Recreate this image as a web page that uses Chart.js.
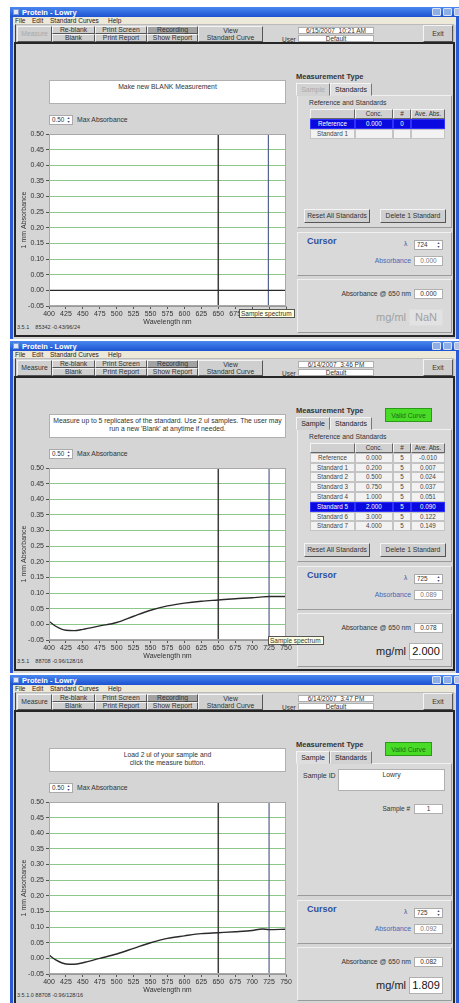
<!DOCTYPE html>
<html>
<head>
<meta charset="utf-8">
<script src="https://cdn.jsdelivr.net/npm/chart.js@4.4.1/dist/chart.umd.min.js"></script>
<style>
    * { box-sizing: border-box; }
    body { margin: 0; width: 459px; height: 1003px; overflow: hidden; position: relative; background: #fff;
           font-family: "Liberation Sans", Arial, sans-serif; color: #222; }
    .win { position: absolute; left: 10px; width: 449px; height: 332px; background: #2a5bd7; overflow: hidden; }
    .win div, .win canvas { position: absolute; }
    .title { background: linear-gradient(#4a88f0, #1c52d0); }
    .ttext { font: bold 7.5px "Liberation Sans"; color: #fff; white-space: nowrap; }
    .tbtn { background: #8eaee6; border: 1px solid #d8e2f6; border-radius: 1px; }
    .menu { background: #ece9d8; font-size: 6.5px; color: #222; }
    .body { background: #d5d5d5; }
    .frame { border: 1px solid #444; border-top-color: #bbb; border-right-color: #bbb; }
    .main { border: 2px solid #262626; background: #d5d5d5; }
    .btn { display: flex; align-items: center; justify-content: center; text-align: center; line-height: 1.1;
           background: #cfcfcf; border: 1px solid; border-color: #f4f4f4 #555 #555 #f4f4f4; font-size: 6.8px; color: #333; }
    .btn.dark { background: #a2a2a2; }
    .btn.off { color: #a8a8a8; }
    .box { background: #fff; border: 1px solid #b0b0b0; font-size: 6.5px; text-align: center; color: #333; white-space: nowrap; }
    .lbl { font-size: 7px; color: #333; white-space: nowrap; }
    .panel { background: #d9d9d9; border: 1px solid; border-color: #f0f0f0 #9a9a9a #9a9a9a #f0f0f0; }
    .tab { background: #d2d2d2; border: 1px solid; border-color: #f4f4f4 #777 transparent #f4f4f4; font-size: 7px; text-align: center; padding-top: 2px; }
    .tab.on { background: #dedede; }
    .tab.dis { color: #aaa; }
    .th { background: #d0d0d0; border: 1px solid; border-color: #f4f4f4 #666 #666 #f4f4f4; font-size: 6.3px; text-align: center; color: #333; line-height: 8px; }
    .td { background: #f2f2f2; border: 1px solid #c4c4c4; font-size: 6.3px; text-align: center; color: #444; line-height: 8px; white-space: nowrap; }
    .td.sel { background: #0a0ae0; color: #fff; border-color: #3030ff; }
    .valid { background: #48dc26; border: 1px solid #2a9a18; color: #1f6a18; font-size: 6.8px; display: flex; align-items: center; justify-content: center; }
    .blue { color: #2d4f9e; }
    .tip { background: #ffffe1; border: 1px solid #555; font-size: 6.5px; color: #333; line-height: 7px; padding-left: 1px; white-space: nowrap; }
    .spin { background: #fff; border: 1px solid #aaa; font-size: 6.3px; color: #333; padding-left: 2px; line-height: 8px; white-space: nowrap; }
    .arr { width: 5px; height: 8px; font-size: 3.5px; line-height: 4px; color: #447; text-align: center; }
</style>
</head>
<body>
<script>
const wavelengthNm = [400, 410, 425, 437, 450, 475, 500, 525, 550, 575, 600, 625, 650, 675, 700, 715, 725, 750];
const blankAbs = [0, 0, 0, 0, 0, 0, 0, 0, 0, 0, 0, 0, 0, 0, 0, 0, 0, 0];
const standardAbs = [0.010, -0.006, -0.019, -0.020, -0.016, -0.005, 0.006, 0.026, 0.045, 0.059, 0.068, 0.074, 0.078, 0.082, 0.085, 0.088, 0.089, 0.089];
const sampleAbs = [0.011, -0.005, -0.018, -0.019, -0.014, 0.000, 0.014, 0.032, 0.050, 0.064, 0.072, 0.079, 0.082, 0.085, 0.089, 0.094, 0.092, 0.093];

// y axis and x axis ticks
const absMin = -0.05, absMax = 0.5, absStep = 0.05;
const nmMin = 400, nmMax = 750, nmStep = 25;
const fixedLineNm = 650;

// Standards table
const stdNames = ['Reference', 'Standard 1', 'Standard 2', 'Standard 3', 'Standard 4', 'Standard 5', 'Standard 6', 'Standard 7'];
const stdConc = ['0.000', '0.200', '0.500', '0.750', '1.000', '2.000', '3.000', '4.000'];
const stdReps = ['5', '5', '5', '5', '5', '5', '5', '5'];
const stdAveAbs = ['-0.010', '0.007', '0.024', '0.037', '0.051', '0.090', '0.122', '0.149'];

const FONT = '"Liberation Sans", Arial, sans-serif';

function el(x, y, w, h, cls, html, extra) {
    return `<div class="${cls || ''}" style="left:${x}px;top:${y}px;width:${w}px;height:${h}px;${extra || ''}">${html || ''}</div>`;
}

function spinner(x, y, w, value) {
    return el(x, y, w, 10, 'spin', value + el(w - 8, 0, 5, 8, 'arr', '&#9650;<br>&#9660;'));
}

function tableHtml(rows, selected, rowH) {
    const cols = [0, 45, 83, 101];
    const widths = [45, 38, 18, 34];
    const heads = ['', 'Conc.', '#', 'Ave. Abs.'];
    let h = '';
    heads.forEach((t, i) => { h += el(300 + cols[i], 102, widths[i], rowH, 'th', t); });
    rows.forEach((r, j) => {
        r.forEach((t, i) => {
            h += el(300 + cols[i], 102 + rowH * (j + 1), widths[i], rowH, j === selected ? 'td sel' : 'td', t);
        });
    });
    return h;
}

function windowHtml(cfg) {
    let h = '';
    // title bar + menu
    h += el(0, 0, 449, 10, 'title');
    h += el(3, 2, 6, 6, '', '', 'background:#dfe7fb;border:1px solid #7d9bd8');
    h += el(12, 1, 120, 9, 'ttext', 'Protein - Lowry');
    h += el(422, 1, 9, 8, 'tbtn') + el(433, 1, 9, 8, 'tbtn') + el(444, 1, 9, 8, 'tbtn', '', 'background:#b7bfe0');
    h += el(3, 10, 443, 8, 'menu');
    h += el(5, 10, 20, 8, 'menu', '<u>F</u>ile', 'background:none');
    h += el(22, 10, 20, 8, 'menu', '<u>E</u>dit', 'background:none');
    h += el(40, 10, 60, 8, 'menu', '<u>S</u>tandard Curves', 'background:none');
    h += el(98, 10, 20, 8, 'menu', '<u>H</u>elp', 'background:none');
    h += el(3, 18, 443, 314, 'body');

    // toolbar
    h += el(5, 17, 439, 19, 'frame');
    h += el(7, 19, 35, 16, 'btn' + (cfg.measureOff ? ' off' : ''), 'Measure');
    h += el(42, 19, 43, 8, 'btn', 'Re-blank') + el(42, 27, 43, 8, 'btn', 'Blank');
    h += el(85, 19, 52, 8, 'btn', 'Print Screen') + el(85, 27, 52, 8, 'btn', 'Print Report');
    h += el(137, 19, 51, 8, 'btn dark', 'Recording') + el(137, 27, 51, 8, 'btn', 'Show Report');
    h += el(188, 19, 65, 16, 'btn', 'View<br>Standard Curve');
    h += el(288, 20, 76, 7, 'box', cfg.date, 'line-height:6px');
    h += el(272, 29, 16, 7, 'lbl', 'User', 'font-size:6.5px');
    h += el(288, 28, 76, 7, 'box', 'Default', 'line-height:6px');
    h += el(413, 18, 30, 17, 'btn', 'Exit');

    // main area
    h += el(4, 35, 441, 295, 'main');
    h += el(39, 73, 237, 24, 'box', cfg.message, 'font-size:6.8px;line-height:8px;padding-top:2px;white-space:normal');
    h += spinner(39, 108, 24, '0.50');
    h += el(67, 109, 70, 9, 'lbl', 'Max Absorbance', 'font-size:6.8px');
    h += el(7, 317, 120, 8, 'lbl', cfg.footnote, 'font-size:5.5px;white-space:pre');

    // right side
    h += el(286, 65, 100, 10, 'lbl', 'Measurement Type', 'font-weight:bold;font-size:7.5px');
    if (cfg.valid) h += el(375, 67, 47, 14, 'valid', 'Valid Curve');
    h += el(287, 88, 155, 133, 'panel');
    const sampleOn = cfg.tab === 'sample';
    h += el(286, 76, 34, 13, 'tab' + (sampleOn ? ' on' : '') + (cfg.sampleOff ? ' dis' : ''), 'Sample');
    h += el(320, 76, 42, 13, 'tab' + (sampleOn ? '' : ' on'), 'Standards');
    if (sampleOn) {
        h += el(293, 97, 40, 10, 'lbl', 'Sample ID', 'font-size:7px');
        h += el(328, 94, 107, 22, 'box', 'Lowry', 'padding-top:1px;font-size:6.8px');
        h += el(340, 130, 60, 10, 'lbl', 'Sample #', 'text-align:right;font-size:6.5px');
        h += el(404, 129, 29, 10, 'box', '1', 'line-height:8px');
    } else {
        h += el(299, 92, 100, 9, 'lbl', 'Reference and Standards', 'font-size:6.8px');
        h += tableHtml(cfg.rows, cfg.selected, cfg.rowH);
        h += el(294, 202, 66, 14, 'btn', 'Reset All Standards');
        h += el(370, 202, 66, 14, 'btn', 'Delete 1 Standard');
    }
    h += el(287, 225, 155, 44, 'panel');
    h += el(297, 229, 50, 12, 'lbl blue', 'Cursor', 'font-weight:bold;font-size:9px');
    h += el(394, 233, 8, 9, 'lbl blue', '&lambda;', 'font-size:6.5px');
    h += spinner(404, 233, 29, cfg.cursor);
    h += el(340, 250, 61, 10, 'lbl', 'Absorbance', 'text-align:right;color:#4a67b5;font-size:6.8px');
    h += el(404, 249, 29, 10, 'box', cfg.cursorAbs, 'line-height:8px;color:#777');
    h += el(287, 272, 155, 54, 'panel');
    h += el(300, 283, 101, 10, 'lbl', 'Absorbance @ 650 nm', 'text-align:right;font-size:6.8px');
    h += el(404, 282, 29, 10, 'box', cfg.abs650, 'line-height:8px');
    h += el(340, 304, 56, 14, 'lbl', 'mg/ml', 'text-align:right;font-size:11px;' + (cfg.mgOff ? 'color:#a0a0a0' : 'color:#222'));
    h += el(399, 302, 34, 17, 'box', cfg.mgml,
        'font-size:11px;line-height:15px;' + (cfg.mgOff ? 'background:#e2e2e2;color:#a0a0a0;border-color:#ddd' : 'color:#111'));
    if (cfg.tip) h += el(cfg.tip[0], cfg.tip[1], 56, 9, 'tip', 'Sample spectrum');
    return h;
}

const plotBg = {
    id: 'plotBg',
    beforeDraw(chart) {
        const a = chart.chartArea, c = chart.ctx;
        c.save();
        c.fillStyle = '#ffffff';
        c.fillRect(a.left, a.top, a.right - a.left, a.bottom - a.top);
        c.restore();
    },
    afterDraw(chart) {
        const a = chart.chartArea, c = chart.ctx;
        c.save();
        c.strokeStyle = '#a8a8a8';
        c.lineWidth = 1;
        c.strokeRect(a.left + 0.5, a.top + 0.5, a.right - a.left - 1, a.bottom - a.top - 1);
        c.restore();
    }
};

function makeChart(canvas, absValues, cursorNm) {
    const tickFont = { family: FONT, size: 7 };
    return new Chart(canvas.getContext('2d'), {
        type: 'line',
        data: {
            datasets: [
                {
                    data: wavelengthNm.map((x, i) => ({ x: x, y: absValues[i] })),
                    borderColor: '#2a2a2a', borderWidth: 1.4, pointRadius: 0,
                    cubicInterpolationMode: 'monotone'
                },
                {
                    data: [{ x: fixedLineNm, y: absMin }, { x: fixedLineNm, y: absMax }],
                    borderColor: '#3c3c3c', borderWidth: 1.5, pointRadius: 0
                },
                {
                    data: [{ x: cursorNm, y: absMin }, { x: cursorNm, y: absMax }],
                    borderColor: '#52628e', borderWidth: 1.2, pointRadius: 0
                }
            ]
        },
        options: {
            responsive: false,
            animation: false,
            events: [],
            layout: { padding: { top: 9, right: 17, left: 0, bottom: 0 } },
            plugins: { legend: { display: false }, tooltip: { enabled: false } },
            scales: {
                x: {
                    type: 'linear', min: nmMin, max: nmMax,
                    ticks: { stepSize: nmStep, font: tickFont, color: '#333', padding: 1, maxRotation: 0, autoSkip: false },
                    grid: { drawOnChartArea: false, tickLength: 3, tickColor: '#555' },
                    border: { color: '#999' },
                    title: { display: true, text: 'Wavelength nm', font: tickFont, color: '#333', padding: { top: 0, bottom: 0 } },
                    afterFit(s) { s.height = 20; }
                },
                y: {
                    min: absMin, max: absMax,
                    ticks: {
                        stepSize: absStep, font: tickFont, color: '#333', padding: 2,
                        callback: v => (Math.abs(v) < 1e-9 ? 0 : v).toFixed(2)
                    },
                    grid: {
                        color: ctx => (ctx.tick && ctx.tick.value < absMin + 0.001) ? 'rgba(0,0,0,0)' : '#8cc88c',
                        tickLength: 3, tickColor: '#555'
                    },
                    border: { color: '#999' },
                    title: { display: true, text: '1 mm Absorbance', font: tickFont, color: '#333', padding: { top: 7, bottom: 0 } },
                    afterFit(s) { s.width = 36; }
                }
            }
        },
        plugins: [plotBg]
    });
}

const windows = [
    {
        top: 7, date: '6/15/2007&nbsp; 10:21 AM', measureOff: true, sampleOff: true, tab: 'standards',
        message: 'Make new BLANK Measurement', valid: false,
        rows: [['Reference', '0.000', '0', ''], ['Standard 1', '', '', '']], selected: 0, rowH: 10,
        cursor: '724', cursorAbs: '0.000', abs650: '0.000', mgml: 'NaN', mgOff: true,
        footnote: '3.5.1    85342 -0.43/96/24', tip: [229, 302], abs: blankAbs
    },
    {
        top: 341, date: '6/14/2007&nbsp; 3:46 PM', tab: 'standards',
        message: 'Measure up to 5 replicates of the standard. Use 2 ul samples. The user may<br>run a new \'Blank\' at anytime if needed.',
        valid: true,
        rows: stdNames.map((n, i) => [n, stdConc[i], stdReps[i], stdAveAbs[i]]), selected: 5, rowH: 9.8,
        cursor: '725', cursorAbs: '0.089', abs650: '0.078', mgml: '2.000',
        footnote: '3.5.1    88708 -0.96/128/16', tip: [258, 295], abs: standardAbs
    },
    {
        top: 675, date: '6/14/2007&nbsp; 3:47 PM', tab: 'sample',
        message: 'Load 2 ul of your sample and<br>click the measure button.', valid: true,
        cursor: '725', cursorAbs: '0.092', abs650: '0.082', mgml: '1.809',
        footnote: '3.5.1.0 88708 -0.96/128/16', tip: null, abs: sampleAbs
    }
];

windows.forEach(cfg => {
    const win = document.createElement('div');
    win.className = 'win';
    win.style.top = cfg.top + 'px';
    win.innerHTML = windowHtml(cfg);
    const canvas = document.createElement('canvas');
    canvas.width = 290;
    canvas.height = 201;
    canvas.style.left = '3px';
    canvas.style.top = '118px';
    win.appendChild(canvas);
    document.body.appendChild(win);
    // tooltip sits above the plot
    const tip = win.querySelector('.tip');
    if (tip) win.appendChild(tip);
    makeChart(canvas, cfg.abs, parseInt(cfg.cursor));
});
</script>
</body>
</html>
